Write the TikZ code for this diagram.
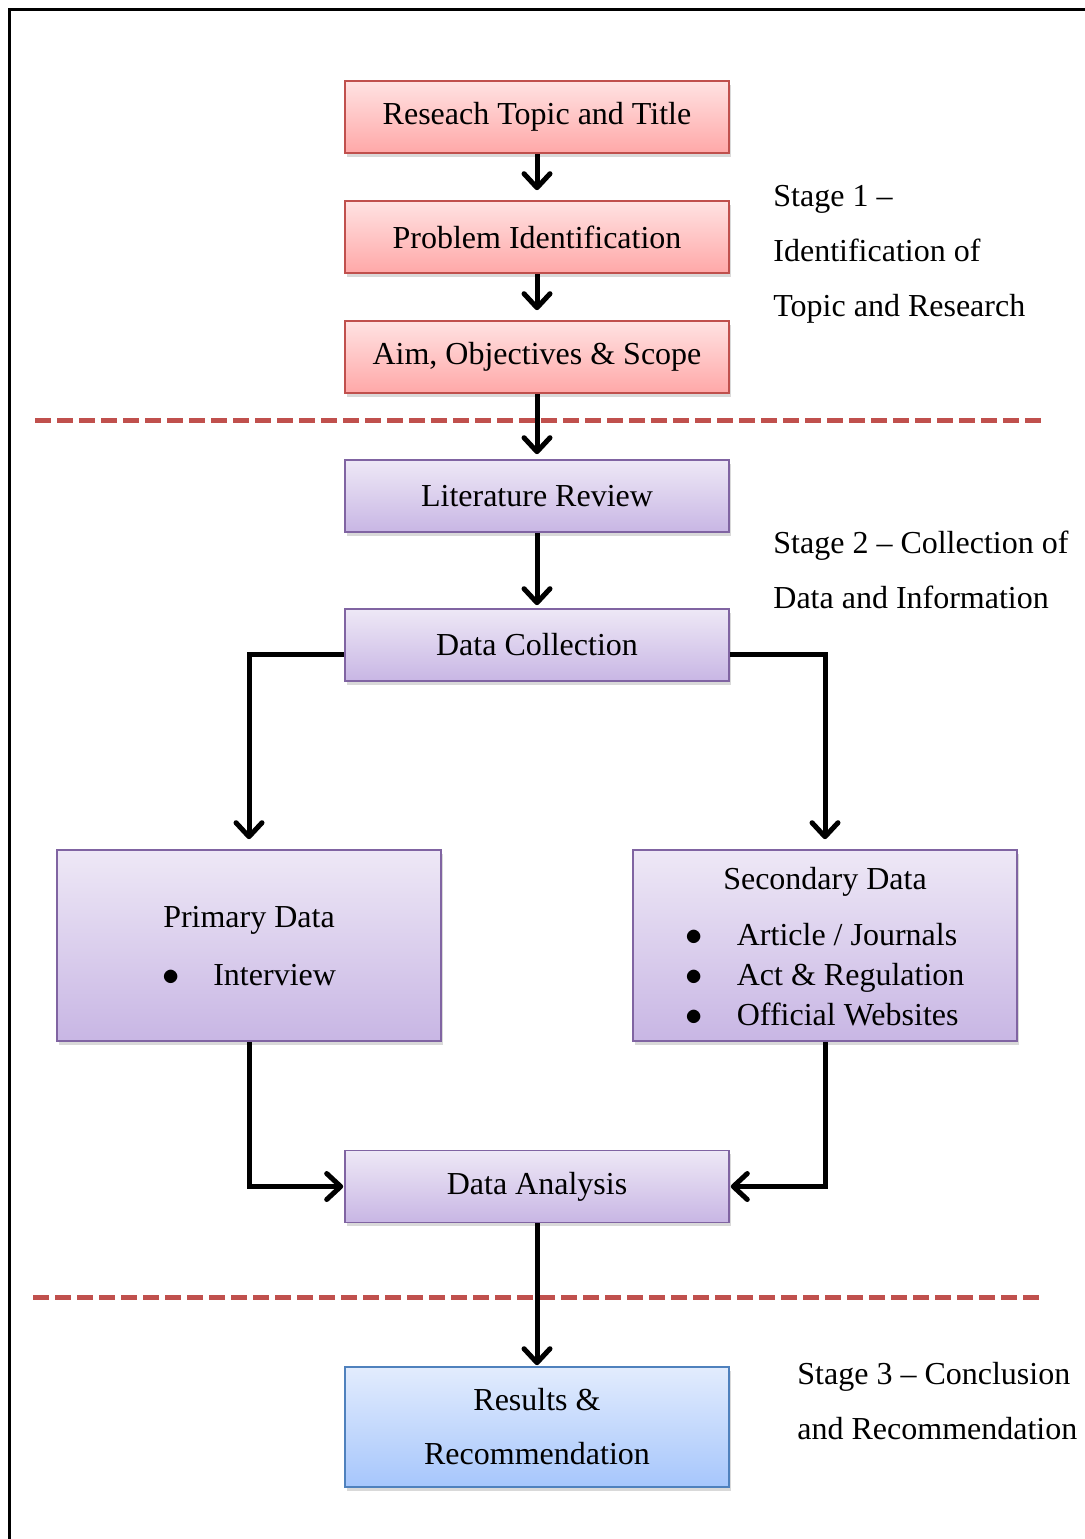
\documentclass[tikz,border=0pt]{standalone}
\usepackage{fontspec}
\setmainfont{Liberation Serif}
\usetikzlibrary{arrows.meta,positioning,calc,shadows}
\definecolor{edgeRed}{HTML}{C0504D}
\definecolor{edgePurple}{HTML}{8064A2}
\definecolor{edgeBlue}{HTML}{4F81BD}
\definecolor{topRed}{HTML}{FFE2E2}
\definecolor{botRed}{HTML}{FFA8A8}
\definecolor{topPurple}{HTML}{EEE8F6}
\definecolor{botPurple}{HTML}{C8B6E4}
\definecolor{topBlue}{HTML}{E2ECFD}
\definecolor{botBlue}{HTML}{A6C6FC}

\begin{document}
\begin{tikzpicture}[x=0.5pt,y=-0.5pt,font=\fontsize{16}{20}\selectfont,
  box/.style={draw,line width=0.8pt,minimum width=192pt,minimum height=36pt,inner sep=0pt,align=center,
    drop shadow={shadow xshift=1.2pt,shadow yshift=-1.8pt,opacity=0.3}},
  redbox/.style={box,draw=edgeRed,top color=topRed,bottom color=botRed},
  purplebox/.style={box,draw=edgePurple,top color=topPurple,bottom color=botPurple},
  bluebox/.style={box,draw=edgeBlue,top color=topBlue,bottom color=botBlue},
  stagetext/.style={anchor=west,align=left,inner sep=0pt,font=\fontsize{16}{27.5}\selectfont},
  flow/.style={line width=2.5pt,-{Straight Barb[length=7pt,width=13pt,line width=2.5pt,round]},shorten >=0.5pt},
  divider/.style={edgeRed,line width=2.5pt,dash pattern=on 8pt off 3pt}]
\useasboundingbox (0,0) rectangle (1084,1539);
\draw[line width=1.5pt] (9,1550) -- (9,9) -- (1095,9);
\foreach \y/\xa/\xb in {420/35/1042,1297/33/1040}
  \draw[divider] (\xa,\y) -- (\xb,\y);

\node[redbox] (title) at (537,117) {Reseach Topic and Title};
\node[redbox] (prob) at (537,237) {Problem Identification};
\node[redbox] (aim) at (537,357) {Aim, Objectives \& Scope};
\node[purplebox] (lit) at (537,496) {Literature Review};
\node[purplebox] (dc) at (537,645) {Data Collection};
\node[purplebox,minimum height=95.5pt] (prim) at (249,945.5)
  {\rule{0pt}{17pt}Primary Data\\[9pt]\begin{tabular}[t]{@{}c@{\hspace{17pt}}l@{}}$\bullet$ & Interview\end{tabular}};
\node[purplebox,minimum height=95.5pt] (sec) at (825,945.5)
  {\rule{0pt}{18pt}Secondary Data\\[8pt]\begin{tabular}[t]{@{}c@{\hspace{17pt}}l@{}}$\bullet$ & Article / Journals\\
   $\bullet$ & Act \& Regulation\\ $\bullet$ & Official Websites\end{tabular}};
\node[purplebox] (da) at (537,1186.5) {Data Analysis};
\node[bluebox,minimum height=60pt,font=\fontsize{16}{27}\selectfont] (res) at (537,1427) {Results \&\\Recommendation};

\node[stagetext] (stage1) at (773,254) {Stage 1 --\\Identification of\\Topic and Research};
\node[stagetext] (stage2) at (773,570) {Stage 2 -- Collection of\\Data and Information};
\node[stagetext] (stage3) at (797,1401) {Stage 3 -- Conclusion\\and Recommendation};

\draw[flow,shorten >=5pt] (title) -- (prob);
\draw[flow,shorten >=5pt] (prob) -- (aim);
\draw[flow,shorten >=2.5pt] (aim) -- (lit);
\draw[flow,shorten >=1.5pt] (lit) -- (dc);
\draw[flow,shorten >=5pt] ([yshift=-4.5pt]dc.west) -| (prim);
\draw[flow,shorten >=5pt] ([yshift=-4.5pt]dc.east) -| (sec);
\draw[flow] (prim) |- (da);
\draw[flow] (sec) |- (da);
\draw[flow] (da) -- (res);
\end{tikzpicture}
\end{document}
